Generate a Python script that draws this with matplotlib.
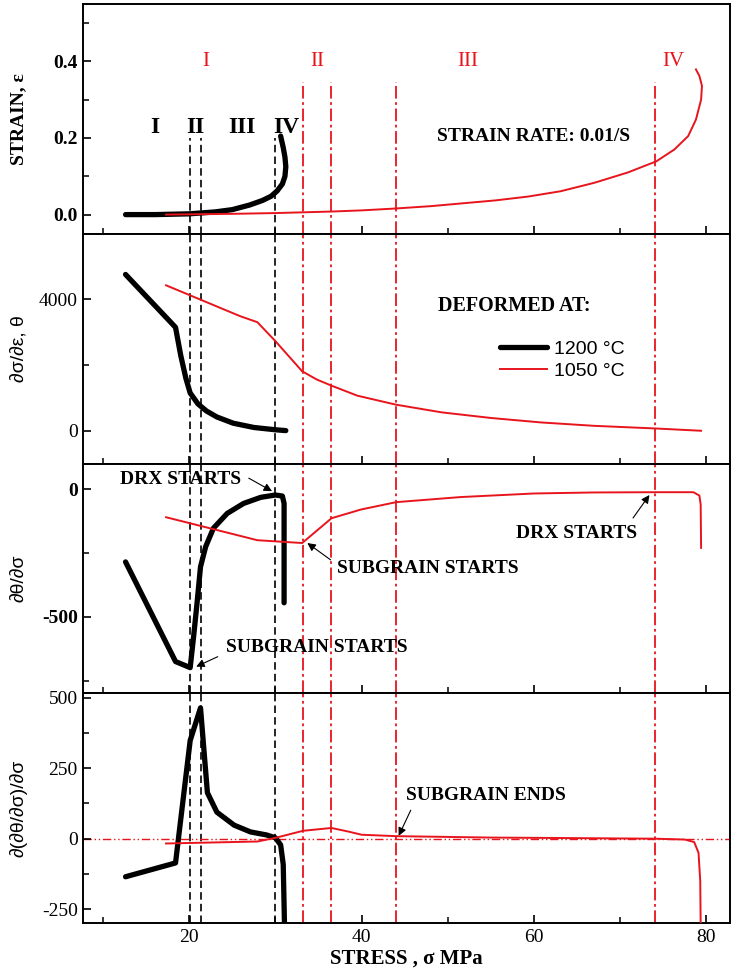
import matplotlib.pyplot as plt
import numpy as np

plt.rcParams['font.family'] = ['Liberation Serif', 'DejaVu Serif']
plt.rcParams['xtick.direction'] = 'in'
plt.rcParams['ytick.direction'] = 'in'
plt.rcParams['axes.linewidth'] = 1.4
plt.rcParams['axes.unicode_minus'] = False

# --- strain vs stress
stress_eps_1200 = [12.6, 16.0, 20.0, 23.0, 25.0, 27.0, 28.5, 29.5, 30.2, 30.8, 31.1, 31.2, 31.1, 30.9, 30.6]
eps_1200 = [0.0, 0.0, 0.002, 0.007, 0.013, 0.025, 0.037, 0.048, 0.062, 0.08, 0.10, 0.125, 0.15, 0.175, 0.205]
stress_eps_1050 = [17.3, 25.0, 30.0, 36.5, 40.0, 44.0, 48.0, 51.5, 55.5, 59.3, 63.1, 67.0, 70.9, 74.2,
                   76.3, 77.9, 78.8, 79.4, 79.5, 79.2, 78.8]
eps_1050 = [0.0, 0.002, 0.004, 0.008, 0.011, 0.016, 0.022, 0.029, 0.037, 0.047, 0.061, 0.083, 0.110, 0.139,
            0.170, 0.205, 0.248, 0.300, 0.336, 0.362, 0.379]

# --- work hardening rate theta
stress_th_1200 = [12.6, 18.4, 19.0, 19.6, 20.1, 21.0, 22.0, 23.2, 25.1, 27.5, 30.0, 31.2]
theta_1200 = [4760, 3150, 2300, 1600, 1150, 820, 600, 420, 230, 100, 30, 5]
stress_th_1050 = [17.3, 25.9, 27.9, 30.0, 33.1, 34.8, 36.5, 39.5, 44.0, 49.3, 55.1, 60.8, 67.0, 74.1, 79.4]
theta_1050 = [4430, 3490, 3307, 2727, 1811, 1560, 1374, 1069, 794, 560, 387, 254, 150, 70, 0]

# --- d theta / d sigma
stress_dth_1200 = [12.6, 18.4, 20.1, 20.5, 20.9, 21.3, 21.9, 22.8, 24.4, 26.3, 28.3, 30.0, 30.8, 31.0, 31.0]
dtheta_1200 = [-285, -675, -699, -577, -445, -304, -225, -153, -95, -56, -32, -23, -27, -56, -445]
stress_dth_1050 = [17.3, 27.9, 33.1, 36.5, 39.9, 44.0, 51.5, 60.0, 67.0, 74.0, 78.5, 79.2, 79.35, 79.4]
dtheta_1050 = [-110, -200, -211, -114, -80, -51, -31, -17, -13, -12, -12, -25, -60, -230]

# --- d(d theta / d sigma) / d sigma
stress_d2_1200 = [12.6, 18.4, 20.1, 21.3, 22.1, 23.2, 25.2, 27.1, 29.0, 30.0, 30.6, 30.9, 31.05]
d2theta_1200 = [-135, -86, 348, 464, 163, 94, 48, 24, 13, 3, -22, -91, -310]
stress_d2_1050 = [17.3, 27.9, 30.0, 33.2, 36.5, 38.5, 40.0, 44.0, 55.0, 65.0, 74.0, 77.5, 78.6, 79.1, 79.3, 79.35]
d2theta_1050 = [-17, -10, 3, 28, 38, 25, 14, 9, 4, 2, 0, -3, -12, -50, -150, -310]

black_marks = [20.1, 21.3, 29.9]
red_marks = [33.2, 36.5, 44.0, 74.1]
black_stage_x = [16.0, 20.7, 26.1, 31.3]
red_stage_x = [21.9, 34.9, 52.3, 76.2]
stage_labels = ['I', 'II', 'III', 'IV']

BLK_LW = 3.8
RED = '#e8141c'
bold = dict(fontweight='bold', fontsize=14)

fig, axes = plt.subplots(4, 1, sharex=True, figsize=(7.31, 9.76), dpi=100)
fig.subplots_adjust(left=0.114, right=0.998, top=0.996, bottom=0.054, hspace=0)
ax1, ax2, ax3, ax4 = axes

ylims = [(-0.05, 0.55), (-1000, 6000), (-800, 100), (-300, 515)]
for ax, yl in zip(axes, ylims):
    ax.set_ylim(*yl)
    ax.set_xlim(7.7, 82.7)
    ax.tick_params(which='major', length=6, width=1.2, labelsize=14, pad=4)
    ax.tick_params(which='minor', length=4, width=1.1)
    ax.set_xticks([20, 40, 60, 80])
    ax.set_xticks([10, 30, 50, 70], minor=True)

# vertical marker lines
black_dash = (0, (4.5, 2.5))
red_dashdot = (0, (7, 2, 1.5, 2))
ax1.vlines(black_marks, -0.05, 0.2, colors='black', linestyles=[black_dash], lw=1.2, zorder=1)
ax1.vlines(red_marks, -0.05, 0.345, colors=RED, linestyles=[red_dashdot], lw=1.3, zorder=1)
for ax in axes[1:]:
    for x in black_marks:
        ax.axvline(x, color='black', ls=black_dash, lw=1.2, zorder=1)
    for x in red_marks:
        ax.axvline(x, color=RED, ls=red_dashdot, lw=1.3, zorder=1)

# panel 1
ax1.plot(stress_eps_1200, eps_1200, color='black', lw=BLK_LW, solid_capstyle='round', zorder=3)
ax1.plot(stress_eps_1050, eps_1050, color=RED, lw=1.4, zorder=4)
ax1.set_yticks([0.0, 0.2, 0.4])
ax1.set_yticks([0.1, 0.3, 0.5], minor=True)
ax1.yaxis.set_major_formatter(plt.FuncFormatter(lambda v, p: f'{v:.1f}'))
for x, s in zip(black_stage_x, stage_labels):
    ax1.text(x, 0.228, s, ha='center', va='center', fontsize=17, fontweight='bold')
for x, s in zip(red_stage_x, stage_labels):
    ax1.text(x, 0.40, s, ha='center', va='center', fontsize=15, color=RED)
ax1.text(59.9, 0.204, 'STRAIN RATE: 0.01/S', ha='center', va='center', **bold)
ax1.set_ylabel('STRAIN, ε', **bold)

# panel 2
l1, = ax2.plot(stress_th_1200, theta_1200, color='black', lw=BLK_LW, solid_capstyle='round', zorder=3, label='1200 °C')
l2, = ax2.plot(stress_th_1050, theta_1050, color=RED, lw=1.4, zorder=4, label='1050 °C')
ax2.set_yticks([0, 4000])
ax2.set_yticks([2000], minor=True)
ax2.text(57.7, 3786, 'DEFORMED AT:', ha='center', va='center', fontweight='bold', fontsize=14.5)
ax2.legend(handles=[l1, l2], loc='center left', bbox_to_anchor=(0.645, 0.45), frameon=False,
           borderpad=0, borderaxespad=0, handlelength=2.4, handletextpad=0.35, labelspacing=0.25,
           prop=dict(family='Liberation Sans', size=14))
ax2.set_ylabel('∂σ/∂ε, θ', fontsize=14, family=['Liberation Sans', 'DejaVu Sans'])

# panel 3
ax3.plot(stress_dth_1200, dtheta_1200, color='black', lw=BLK_LW, solid_capstyle='round',
         solid_joinstyle='round', zorder=3)
ax3.plot(stress_dth_1050, dtheta_1050, color=RED, lw=1.4, zorder=4)
ax3.set_yticks([-500, 0])
ax3.set_yticks([-750, -250], minor=True)
arrow = dict(arrowstyle='-|>', color='black', lw=0.8, mutation_scale=12, shrinkA=0, shrinkB=0)
ax3.text(19.0, 39, 'DRX STARTS', ha='center', va='center', **bold)
ax3.annotate('', xy=(29.6, -8), xytext=(26.9, 43), arrowprops=arrow)
ax3.text(34.8, -621, 'SUBGRAIN STARTS', ha='center', va='center', **bold)
ax3.annotate('', xy=(20.8, -695), xytext=(23.3, -656), arrowprops=arrow)
ax3.text(47.7, -309, 'SUBGRAIN STARTS', ha='center', va='center', **bold)
ax3.annotate('', xy=(33.7, -211), xytext=(36.4, -277), arrowprops=arrow)
ax3.text(64.9, -172, 'DRX STARTS', ha='center', va='center', **bold)
ax3.annotate('', xy=(73.4, -23), xytext=(71.5, -113), arrowprops=arrow)
ax3.set_ylabel('∂θ/∂σ', fontsize=14, family=['Liberation Sans', 'DejaVu Sans'])

# panel 4
ax4.axhline(0, color=RED, lw=1.0, ls=(0, (6, 2, 1, 2, 1, 2)), zorder=1)
ax4.plot(stress_d2_1200, d2theta_1200, color='black', lw=BLK_LW, solid_capstyle='round', zorder=3)
ax4.plot(stress_d2_1050, d2theta_1050, color=RED, lw=1.4, zorder=4)
ax4.set_yticks([-250, 0, 250, 500])
ax4.set_yticks([-125, 125, 375], minor=True)
ax4.text(54.4, 153, 'SUBGRAIN ENDS', ha='center', va='center', **bold)
ax4.annotate('', xy=(44.3, 10), xytext=(45.7, 101), arrowprops=arrow)
ax4.set_ylabel('∂(∂θ/∂σ)/∂σ', fontsize=14, family=['Liberation Sans', 'DejaVu Sans'])
ax4.set_xlabel('STRESS , σ MPa', fontsize=15, fontweight='bold', labelpad=2)

for ax in (ax1, ax3):
    for t in ax.get_yticklabels():
        t.set_fontweight('bold')
for ax in axes:
    ax.yaxis.set_label_coords(-0.087, 0.5)

fig.savefig('out.png', dpi=100)
